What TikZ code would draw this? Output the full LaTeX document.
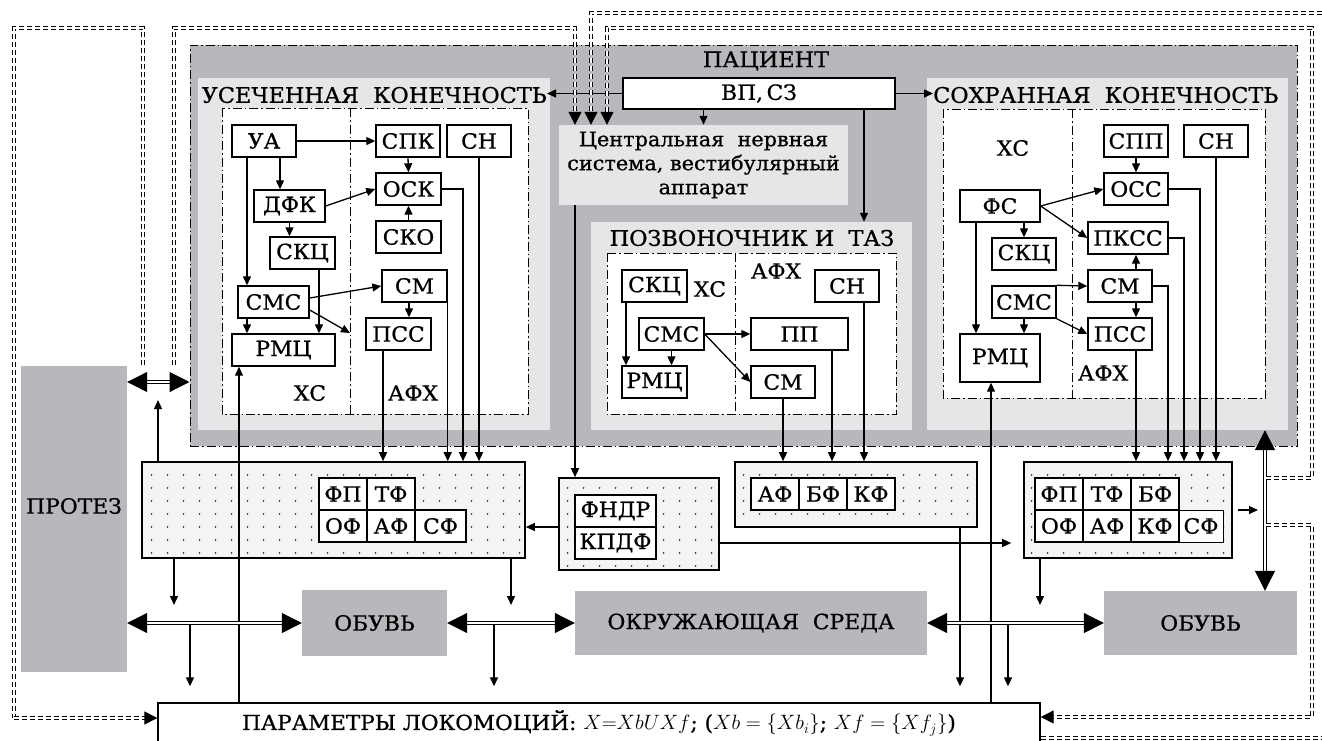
\documentclass[tikz,border=0pt]{standalone}
\usepackage{fontspec}
\setmainfont{DejaVu Serif}[FakeStretch=1.04, FakeBold=0.8]
\usetikzlibrary{arrows.meta,patterns.meta}
\definecolor{dgray}{RGB}{183,184,188}
\definecolor{lgray}{RGB}{229,230,232}
\definecolor{dotbg}{RGB}{244,244,244}
\tikzdeclarepattern{name=sparsedots, type=uncolored,
  bounding box={(0pt,0pt) and (16pt,13pt)}, tile size={(16pt,13pt)},
  code={\fill (8pt,6.5pt) circle [radius=1pt];}}
\newcommand\fB{\fontsize{21}{24}\selectfont}
\newcommand\fH{\fontsize{21.5}{24}\selectfont}
\newcommand\fC{\fontsize{20}{24}\selectfont}
\newcommand\fP{\fontsize{20.74}{24}\selectfont}
\begin{document}
\begin{tikzpicture}[x=1pt,y=-1pt,
 every node/.style={inner sep=0pt, font=\fB},
 bx/.style={draw, line width=1.4pt, fill=white, minimum height=32pt},
 cell/.style={draw, line width=1.4pt, fill=white, minimum width=48pt, minimum height=32pt},
 panel/.style={fill=lgray},
 gbox/.style={fill=dgray},
 dotbox/.style={draw, line width=1.6pt, preaction={fill=dotbg}, pattern=sparsedots, pattern color=black!80},
 dashdot/.style={line width=1pt, dash pattern=on 9pt off 3pt on 1.5pt off 3pt},
 arr/.style={line width=1.3pt, -{Triangle[length=9pt,width=8pt]}},
 dd/.style={line width=1.3pt, double, double distance=1.5pt, dash pattern=on 5pt off 3pt},
 ddarr/.style={dd, -{Triangle[length=13pt,width=13pt]}},
 big/.style={line width=1.1pt, double, double distance=2.2pt, {Triangle[length=20pt,width=20pt]}-{Triangle[length=20pt,width=20pt]}},
]
\useasboundingbox (0,0) rectangle (1322,740);

% ---------- patient and panels
\node[gbox, draw, dashdot, minimum width=1107pt, minimum height=401pt] (patient) at (743.5,245.5) {};
\node[panel, minimum width=352pt, minimum height=352pt] (ushort) at (374,254) {};
\node[panel, minimum width=321pt, minimum height=208pt] (spine) at (751.5,326) {};
\node[panel, minimum width=361pt, minimum height=352pt] (intact) at (1107.5,254) {};
\node[panel, minimum width=289pt, minimum height=80pt, font=\fC, align=center] (cns) at (703.5,165)
  {Центральная\ \ нервная\\система, вестибулярный\\аппарат};
\node[bx, minimum width=272pt, minimum height=31pt] (vpsz) at (759,93.5) {ВП,\,СЗ};

\draw[dashdot, fill=white] (222,108) rectangle (528,414);
\draw[dashdot] (350,108) -- (350,414);
\draw[dashdot, fill=white] (607,253) rectangle (896,414);
\draw[dashdot] (735,253) -- (735,414);
\draw[dashdot, fill=white] (943,109) rectangle (1265,398);
\draw[dashdot] (1072,109) -- (1072,398);

\node[font=\fH] (patlbl) at (766,61) {ПАЦИЕНТ};
\node[font=\fH, anchor=east] (ulbl) at (547,95) {УСЕЧЕННАЯ\ \ КОНЕЧНОСТЬ};
\node[font=\fH, anchor=west] (slbl) at (933,95) {СОХРАННАЯ\ \ КОНЕЧНОСТЬ};
\node[font=\fH] (splbl) at (752,238) {ПОЗВОНОЧНИК И\ \ ТАЗ};

% ---------- truncated limb
\node[bx, minimum width=64pt] (ua) at (264,141) {УА};
\node[bx, minimum width=64pt] (spk) at (408,141) {СПК};
\node[bx, minimum width=64pt] (sn1) at (479,141) {СН};
\node[bx, minimum width=71pt] (dfk) at (289.5,206) {ДФК};
\node[bx, minimum width=65pt] (osk) at (408.5,189) {ОСК};
\node[bx, minimum width=65pt] (sko) at (408.5,237) {СКО};
\node[bx, minimum width=65pt] (skc1) at (302.5,253) {СКЦ};
\node[bx, minimum width=71pt] (sms1) at (273.5,302) {СМС};
\node[bx, minimum width=103pt] (rmc1) at (283.5,350) {РМЦ};
\node[bx, minimum width=65pt] (sm1) at (414.5,286) {СМ};
\node[bx, minimum width=65pt] (pss1) at (398.5,334) {ПСС};
\node (xs1) at (310,393) {ХС};
\node (afx1) at (413,393) {АФХ};
\coordinate (afxin) at (350,333);

% ---------- spine
\node[bx, minimum width=65pt] (skc2) at (654.5,286) {СКЦ};
\node (xs2) at (710,289) {ХС};
\node[bx, minimum width=65pt] (sms2) at (671.5,334) {СМС};
\node[bx, minimum width=65pt] (rmc2) at (654.5,382) {РМЦ};
\node (afx2) at (776,271) {АФХ};
\node[bx, minimum width=64pt] (sn2) at (847,286) {СН};
\node[bx, minimum width=97pt] (pp) at (799.5,334) {ПП};
\node[bx, minimum width=64pt] (sm2) at (783,382) {СМ};

% ---------- intact limb
\node (xs3) at (1013,148) {ХС};
\node[bx, minimum width=64pt] (spp) at (1136,141) {СПП};
\node[bx, minimum width=64pt] (sn3) at (1216,141) {СН};
\node[bx, minimum width=64pt] (oss) at (1136,189) {ОСС};
\node[bx, minimum width=80pt] (fs) at (1000,206) {ФС};
\node[bx, minimum width=80pt] (pkss) at (1128,238) {ПКСС};
\node[bx, minimum width=64pt] (skc3) at (1024,254) {СКЦ};
\node[bx, minimum width=64pt] (sm3) at (1120,286) {СМ};
\node[bx, minimum width=64pt] (sms3) at (1024,302) {СМС};
\node[bx, minimum width=64pt] (pss3) at (1120,334) {ПСС};
\node[bx, minimum width=80pt, minimum height=48pt] (rmc3) at (1000,358) {РМЦ};
\node (afx3) at (1103,373) {АФХ};

% ---------- dotted boxes
\node[dotbox, minimum width=383pt, minimum height=96pt] (lbox) at (333.5,510) {};
\node[cell] (l11) at (343,494) {ФП};
\node[cell] (l12) at (391,494) {ТФ};
\node[cell] (l21) at (343,526) {ОФ};
\node[cell] (l22) at (391,526) {АФ};
\node[cell, minimum width=51pt] (l23) at (440.5,526) {СФ};

\node[dotbox, minimum width=160pt, minimum height=92pt] (fbox) at (639,524) {};
\node[bx, minimum width=81pt] (fndr) at (615.5,511) {ФНДР};
\node[bx, minimum width=81pt] (kpdf) at (615.5,543) {КПДФ};

\node[dotbox, minimum width=242pt, minimum height=65pt] (mbox) at (856,494.5) {};
\node[cell] (m1) at (775,494) {АФ};
\node[cell] (m2) at (823,494) {БФ};
\node[cell] (m3) at (871,494) {КФ};

\node[dotbox, minimum width=208pt, minimum height=96pt] (rbox) at (1128,510) {};
\node[cell] (r11) at (1059,494) {ФП};
\node[cell] (r12) at (1107,494) {ТФ};
\node[cell] (r13) at (1155,494) {БФ};
\node[cell] (r21) at (1059,526) {ОФ};
\node[cell] (r22) at (1107,526) {АФ};
\node[cell] (r23) at (1155,526) {КФ};
\node[cell, minimum width=44pt, line width=0.8pt] (r24) at (1201,526) {СФ};

% ---------- gray boxes and parameters
\node[gbox, minimum width=106pt, minimum height=306pt] (protez) at (74,519) {};
\node (protezt) at (74,506) {ПРОТЕЗ};
\node[gbox, minimum width=145pt, minimum height=66pt] (obuv1) at (374.5,623) {ОБУВЬ};
\node[gbox, minimum width=352pt, minimum height=64pt] (okr) at (751,623) {ОКРУЖАЮЩАЯ\ \ СРЕДА};
\node[gbox, minimum width=193pt, minimum height=64pt] (obuv2) at (1200.5,623) {ОБУВЬ};
\node[draw, line width=1.4pt, fill=white, minimum width=882pt, minimum height=40pt, font=\fP] (param) at (599,723)
  {ПАРАМЕТРЫ ЛОКОМОЦИЙ: $X{=}XbUXf$; ($Xb=\{Xb_i\}$; $Xf=\{Xf_j\}$)};

% ---------- coordinates
\coordinate (pa) at (158,382);
\coordinate (l1) at (143,365);
\coordinate (l2) at (174,365);
\coordinate (r1) at (1322,13);
\coordinate (r2) at (1322,738);
\coordinate (s1) at (1266,478);
\coordinate (s2) at (1266,525);
\coordinate (sh) at (1265,511);
\coordinate (d1) at (190,623);
\coordinate (d2) at (494,623);
\coordinate (d3) at (1008,623);

% ---------- arrows: top
\draw[arr] (vpsz.west) -- (vpsz.west -| ulbl.east);
\draw[arr] (vpsz.east) -- (vpsz.east -| slbl.west);
\draw[arr] ([xshift=-55.5pt]vpsz.south) -- (cns.north);
\draw[arr] ([xshift=105pt]vpsz.south) -- ([xshift=105pt]vpsz.south |- spine.north);
\draw[arr] ([xshift=-128.5pt]cns.south) -- ([xshift=-128.5pt]cns.south |- fbox.north);

% truncated
\draw[arr] (ua.east) -- (spk.west);
\draw[arr] ([xshift=16pt]ua.south) -- ([xshift=16pt]ua.south |- dfk.north);
\draw[arr] ([xshift=-17pt]ua.south) -- ([xshift=-17pt]ua.south |- sms1.north);
\draw[arr] (dfk.east) -- (osk.west);
\draw[arr] (dfk.south) -- (dfk.south |- skc1.north);
\draw[arr] (spk.south) -- (osk.north);
\draw[arr] (sko.north) -- (osk.south);
\draw[arr] ([xshift=16.5pt]skc1.south) -- ([xshift=16.5pt]skc1.south |- rmc1.north);
\draw[arr] ([xshift=-26.5pt]sms1.south) -- ([xshift=-26.5pt]sms1.south |- rmc1.north);
\draw[arr] ([yshift=4pt]sms1.east) -- (sm1.west);
\draw[arr] ([yshift=-8pt]sms1.east) -- (afxin);
\draw[arr] ([xshift=-5.5pt]sm1.south) -- ([xshift=-5.5pt]sm1.south |- pss1.north);
\draw[arr] ([xshift=-15.5pt]pss1.south) -- ([xshift=-15.5pt]pss1.south |- lbox.north);
\draw[arr] (sm1.south east) -- (sm1.south east |- lbox.north);
\draw[arr] (osk.east) -| ([xshift=129.5pt]lbox.north);
\draw[arr] (sn1.south) -- (sn1.south |- lbox.north);
\draw[arr] ([xshift=-44.5pt]rmc1.south |- param.north) -- ([xshift=-44.5pt]rmc1.south);

% spine
\draw[arr] ([xshift=-28.5pt]skc2.south) -- ([xshift=-28.5pt]skc2.south |- rmc2.north);
\draw[arr] (sms2.south) -- (sms2.south |- rmc2.north);
\draw[arr] (sms2.east) -- (pp.west);
\draw[arr] (sms2.east) -- (sm2.west);
\draw[arr] (sm2.south) -- (sm2.south |- mbox.north);
\draw[arr] ([xshift=32.5pt]pp.south) -- ([xshift=32.5pt]pp.south |- mbox.north);
\draw[arr] ([xshift=17pt]sn2.south) -- ([xshift=17pt]sn2.south |- mbox.north);

% intact
\draw[arr] (spp.south) -- (oss.north);
\draw[arr] (fs.east) -- (oss.west);
\draw[arr] (fs.east) -- (pkss.west);
\draw[arr] ([xshift=24pt]fs.south) -- (skc3.north);
\draw[arr] ([xshift=-24pt]fs.south) -- ([xshift=-24pt]fs.south |- rmc3.north);
\draw[arr] ([xshift=16pt]sm3.north) -- ([xshift=16pt]sm3.north |- pkss.south);
\draw[arr] ([xshift=16pt]sm3.south) -- ([xshift=16pt]sm3.south |- pss3.north);
\draw[arr] (sms3.north east) -- (sm3.west);
\draw[arr] (sms3.south east) -- (pss3.west);
\draw[arr] (sms3.south) -- (sms3.south |- rmc3.north);
\draw[arr] ([xshift=16pt]pss3.south) -- ([xshift=16pt]pss3.south |- rbox.north);
\draw[arr] (sm3.east) -| ([xshift=40pt]rbox.north);
\draw[arr] (pkss.east) -| ([xshift=56pt]rbox.north);
\draw[arr] (oss.east) -| ([xshift=72pt]rbox.north);
\draw[arr] (sn3.south) -- (sn3.south |- rbox.north);
\draw[arr] ([xshift=-9pt]rmc3.south |- param.north) -- ([xshift=-9pt]rmc3.south);

% middle
\draw[arr] ([yshift=-3pt]fbox.west) -- ([yshift=-3pt]fbox.west -| lbox.east);
\draw[arr, shorten >=12pt] ([yshift=-19pt]fbox.east) -- ([yshift=-19pt]fbox.east -| rbox.west);
\draw[arr, shorten >=18pt] ([xshift=-175.5pt]lbox.north) -- ([xshift=-175.5pt]lbox.north |- pa);
\draw[arr, shorten >=18pt] ([xshift=-159.5pt]lbox.south) -- ([xshift=-159.5pt]lbox.south |- obuv1.west);
\draw[arr, shorten >=18pt] ([xshift=177.5pt]lbox.south) -- ([xshift=177.5pt]lbox.south |- okr.west);
\draw[arr, shorten >=18pt] ([xshift=-88pt]rbox.south) -- ([xshift=-88pt]rbox.south |- obuv2.west);
\draw[arr, shorten >=16pt] ([xshift=104pt]mbox.south) -- ([xshift=104pt]mbox.south |- param.north);
\draw[arr, shorten <=5pt, shorten >=7pt] (rbox.east) -- (rbox.east -| sh);
\draw[arr, shorten >=16pt] (d1) -- (d1 |- param.north);
\draw[arr, shorten >=16pt] (d2) -- (d2 |- param.north);
\draw[arr, shorten >=16pt] (d3) -- (d3 |- param.north);

% big double arrows
\draw[big] (protez.east |- pa) -- (patient.west |- pa);
\draw[big] (protez.east |- obuv1.west) -- (obuv1.west);
\draw[big] (obuv1.east) -- (okr.west);
\draw[big] (okr.east) -- (obuv2.west);
\draw[big] ([xshift=64.5pt]obuv2.north |- intact.south) -- ([xshift=64.5pt]obuv2.north);

% double dashed feedback lines
\draw[dd] (l1) -- (143,28) -- (14,28) -- (14,718);
\draw[ddarr] (14,718) -- ([yshift=5pt]param.west);
\draw[ddarr] (l2) -- (174,28) -- (575,28) -- ([xshift=-128.5pt]cns.north);
\draw[ddarr] (r1) -- (591,13) -- ([xshift=-112.5pt]cns.north);
\draw[ddarr] (s1) -- (1312,478) -- (1312,28) -- (607,28) -- ([xshift=-96.5pt]cns.north);
\draw[ddarr] (s2) -- (1312,525) -- (1312,717) -- ([yshift=6pt]param.east);
\draw[dd] ([yshift=-15pt]param.east) -- (r2);
\end{tikzpicture}
\end{document}
